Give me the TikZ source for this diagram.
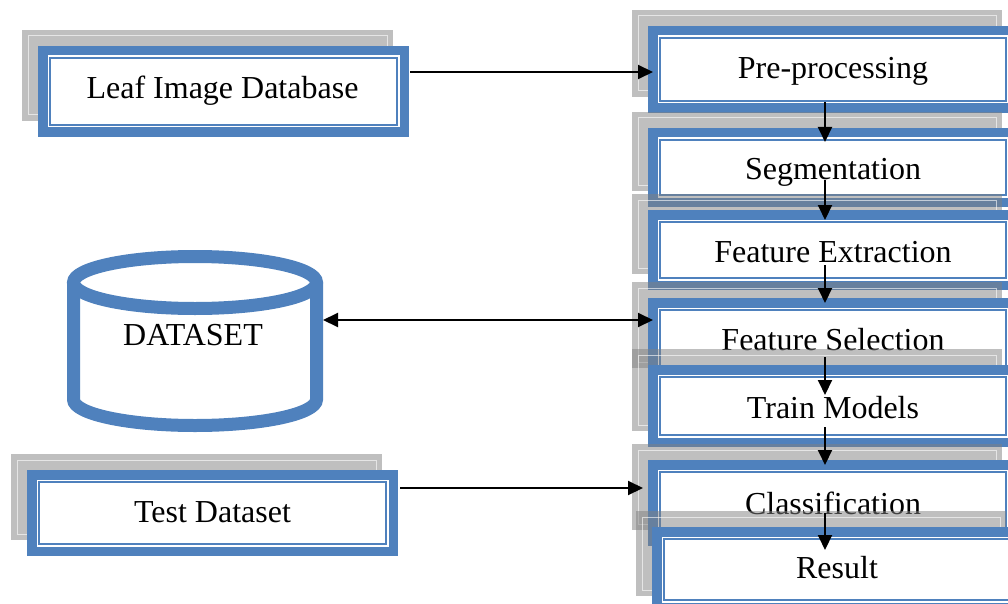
\documentclass[tikz,border=0pt]{standalone}
\usepackage{fontspec}
\setmainfont{Liberation Serif}
\usetikzlibrary{arrows.meta}
\definecolor{boxblue}{HTML}{4F81BD}
\definecolor{shadowgray}{HTML}{808080}
\tikzset{
  shadowfill/.style={fill=shadowgray, fill opacity=0.5},
  shadowline/.style={draw=white, draw opacity=0.6, line width=1pt},
  boxnode/.style={rectangle, fill=white, inner sep=0pt, outer sep=0pt, font=\fontsize{32}{38}\selectfont},
  band/.style={draw=boxblue, line width=9.5pt},
  innerline/.style={draw=boxblue, line width=2pt},
  cyl/.style={draw=boxblue, line width=13pt},
  arr/.style={-{Triangle[length=15pt,width=14pt]}, line width=2pt},
  dblarr/.style={{Triangle[length=15pt,width=14pt]}-{Triangle[length=15pt,width=14pt]}, line width=2pt},
}
% [#1 text options] #2 name, #3 x1, #4 y1, #5 x2, #6 y2, #7 text (pixel coordinates, y downwards)
\newcommand\flowbox[7][]{%
  \fill[shadowfill] ({#3-16},{#4-16}) rectangle ({#5-16},{#6-16});
  \draw[shadowline] ({#3-10},{#4-10}) rectangle ({#5-22},{#6-22});
  \node[boxnode, minimum width={(#5-#3)*1pt}, minimum height={(#6-#4)*1pt}] (#2) at ({(#3+#5)/2},{(#4+#6)/2}) {};
  \draw[band] ([shift={(4.75,4.75)}]#2.north west) rectangle ([shift={(-4.75,-4.75)}]#2.south east);
  \draw[innerline] ([shift={(12,12)}]#2.north west) rectangle ([shift={(-12,-12)}]#2.south east);
  \path (#2.center) node[font=\fontsize{32}{38}\selectfont, inner sep=0pt, #1] (#2-label) {#7};
}
\begin{document}
\begin{tikzpicture}[x=1pt,y=-1pt]
\clip (0,0) rectangle (1008,604);
\fill[white] (0,0) rectangle (1008,604);

\flowbox[xshift=-1, yshift=1]{leaf}{38}{46}{409}{137}{Leaf Image Database}
\flowbox[yshift=1]{test}{27}{470}{398}{556}{Test Dataset}

\flowbox[yshift=-2]{pre}{648}{26}{1018}{113}{Pre-processing}
\flowbox[yshift=-5]{seg}{648}{128}{1018}{207}{Segmentation}
\flowbox[yshift=-2]{fe}{648}{210}{1018}{290}{Feature Extraction}
\flowbox[yshift=1]{fs}{648}{298}{1018}{384}{Feature Selection}
\flowbox[yshift=-2]{tm}{648}{365}{1018}{447}{Train Models}
\flowbox{cls}{648}{460}{1018}{546}{Classification}
\flowbox[yshift=2]{res}{652}{527}{1022}{612}{Result}

% cylinder
\fill[white] (73.5,282.5) rectangle (316.5,399.5);
\fill[white] (195,399.5) ellipse [x radius=121.5, y radius=26];
\draw[cyl] (73.5,282.5) -- (73.5,399.5) arc [start angle=180, end angle=0, x radius=121.5, y radius=26] -- (316.5,282.5);
\draw[cyl] (195,282.5) ellipse [x radius=121.5, y radius=26];
\node[font=\fontsize{32}{38}\selectfont, inner sep=0pt] (ds) at (193,335) {DATASET};
\coordinate (dsr) at (323,320);

% connectors
\draw[arr] ([shift={(1,-19.5)}]leaf.east) -- ([shift={(5,2.5)}]pre.west);
\draw[dblarr] (dsr) -- ([shift={(5,-21)}]fs.west);
\draw[arr] ([shift={(2,-25)}]test.east) -- ([shift={(-5,-15)}]cls.west);

\draw[arr] ([shift={(-8,-11)}]pre.south) -- ([shift={(-8,14)}]seg.north);
\draw[arr] ([shift={(-8,-27)}]seg.south) -- ([shift={(-8,10)}]fe.north);
\draw[arr] ([shift={(-8,-25)}]fe.south) -- ([shift={(-8,5)}]fs.north);
\draw[arr] ([shift={(-8,-27)}]fs.south) -- ([shift={(-8,30)}]tm.north);
\draw[arr] ([shift={(-8,-20)}]tm.south) -- ([shift={(-8,5)}]cls.north);
\draw[arr] ([shift={(-8,-33)}]cls.south) -- ([shift={(-12,23)}]res.north);
\end{tikzpicture}
\end{document}
